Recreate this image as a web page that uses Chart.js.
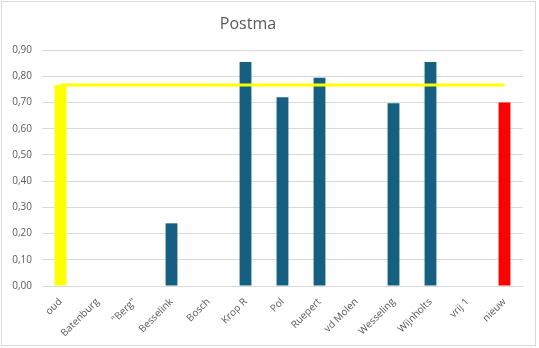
<!DOCTYPE html>
<html>
<head>
<meta charset="utf-8">
<script src="https://cdn.jsdelivr.net/npm/chart.js@4/dist/chart.umd.min.js"></script>
<style>
html,body{margin:0;padding:0;background:#fff;}
#wrap{position:relative;width:539px;height:348px;}
canvas{display:block;}
</style>
</head>
<body>
<div id="wrap"><canvas id="c" width="539" height="348"></canvas></div>
<script>
const chartTitle = "Postma";
const categories = ["oud", "Batenburg", "\"Berg\"", "Besselink", "Bosch", "Krop R", "Pol", "Ruepert", "vd Molen", "Wesseling", "Wijnholts", "vrij 1", "nieuw"];
const scores = [0.767, null, null, 0.239, null, 0.854, 0.72, 0.794, null, 0.697, 0.854, null, 0.70];
const referenceLine = [0.767, 0.767, 0.767, 0.767, 0.767, 0.767, 0.767, 0.767, 0.767, 0.767, 0.767, 0.767, 0.767];
const yTicks = [0, 0.1, 0.2, 0.3, 0.4, 0.5, 0.6, 0.7, 0.8, 0.9];

const BLUE = "#156082", YELLOW = "#FFFF00", RED = "#FF0000";
const barColors = categories.map((c, i) => i === 0 ? YELLOW : (i === categories.length - 1 ? RED : BLUE));

const decor = {
  id: "decor",
  beforeDraw(chart) {
    const ctx = chart.ctx;
    ctx.save();
    ctx.fillStyle = "#fff";
    ctx.fillRect(0, 0, chart.width, chart.height);
    ctx.strokeStyle = "#d9d9d9";
    ctx.lineWidth = 1;
    ctx.strokeRect(1.5, 1.5, 534, 344);
    ctx.restore();
  },
  afterDraw(chart) {
    const ctx = chart.ctx;
    ctx.save();
    ctx.font = "16px 'Open Sans', Roboto, sans-serif";
    ctx.fillStyle = "#595959";
    ctx.textAlign = "center";
    ctx.textBaseline = "middle";
    ctx.fillText(chartTitle, 248, 24);
    ctx.restore();
  }
};

new Chart(document.getElementById("c"), {
  data: {
    labels: categories,
    datasets: [
      {
        type: "line",
        data: referenceLine,
        borderColor: YELLOW,
        borderWidth: 3,
        pointRadius: 0,
        fill: false,
        order: 0
      },
      {
        type: "bar",
        data: scores,
        backgroundColor: barColors,
        borderWidth: 0,
        categoryPercentage: 1,
        barPercentage: 0.32,
        order: 1
      }
    ]
  },
  options: {
    responsive: false,
    animation: false,
    layout: { padding: { top: 50, right: 16, left: 0, bottom: 0 } },
    plugins: { legend: { display: false }, tooltip: { enabled: false }, title: { display: false } },
    scales: {
      x: {
        grid: { display: false },
        border: { display: true, color: "#d9d9d9" },
        ticks: {
          color: "#595959",
          font: { family: "'Open Sans', Roboto, sans-serif", size: 10 },
          minRotation: 45, maxRotation: 45, autoSkip: false, padding: 2
        },
        afterFit(scale) { scale.height = 62; }
      },
      y: {
        min: 0, max: 0.9,
        afterBuildTicks(scale) { scale.ticks = yTicks.map(v => ({ value: v })); },
        grid: { color: "#d9d9d9", drawTicks: false },
        border: { display: false },
        ticks: {
          color: "#595959",
          font: { family: "'Open Sans', Roboto, sans-serif", size: 10 },
          padding: 10,
          callback: v => Number(v).toFixed(2).replace(".", ",")
        },
        afterFit(scale) { scale.width = 42; }
      }
    }
  },
  plugins: [decor]
});
</script>
</body>
</html>
